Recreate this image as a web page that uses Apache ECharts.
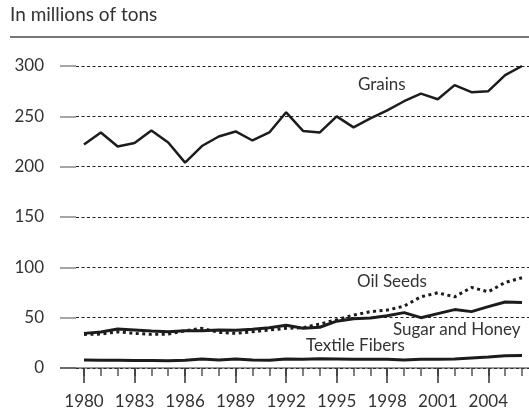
<!DOCTYPE html>
<html><head><meta charset="utf-8">
<script src="https://cdn.jsdelivr.net/npm/echarts@6/dist/echarts.min.js"></script>
<style>html,body{margin:0;padding:0;background:#fff}#c{width:529px;height:412px}</style>
</head><body><div id="c"></div>
<script>
const years = ['1980','1981','1982','1983','1984','1985','1986','1987','1988','1989','1990','1991','1992','1993','1994','1995','1996','1997','1998','1999','2000','2001','2002','2003','2004','2005','2006'];
const grains = [222,234,220,223.5,236,224,204,220.5,230,235,226,234,254,235.5,234,250,239,248,256,265,272.5,267,281,274,275,291,300];
const oilSeeds = [33.4,33.7,36,34.4,33.4,33.7,37,39.4,35.4,34.4,36,37.7,39.4,40,43.7,48,52.5,56,57.5,61.5,70.7,74.7,70.7,80,75.7,85,89.6];
const sugarHoney = [34.4,35.7,38.7,37.7,36.7,36,37,37,37.7,37.5,38.5,40,42.5,39.5,40.5,46.5,49,49.6,52,55,50,54,58,56,61,65.5,65];
const textileFibers = [8,7.6,7.6,7.5,7.4,7.3,7.6,9,8,9,8,7.6,9,8.6,9.3,9,8.6,8.6,8.6,8,8.6,8.6,9,10,11,12.2,12.5];
const yTicks = {min:0, max:300, interval:50};
const seriesNames = ['Grains','Oil Seeds','Sugar and Honey','Textile Fibers'];
const unitTitle = 'In millions of tons';

const FONT = 'Lato';
const TXT = '#333';
const chart = echarts.init(document.getElementById('c'), null, {renderer:'canvas'});
const lineStyle = {color:'#1c1c1c', width:2.5};
chart.setOption({
  animation:false,
  textStyle:{fontFamily:FONT},
  grid:[
    {left:76, right:0, top:66, bottom:44},
    {left:84, right:7, top:66, bottom:44}
  ],
  xAxis:[
    {gridIndex:0, type:'category', show:false, data:years},
    {gridIndex:1, type:'category', data:years, boundaryGap:false,
     axisLine:{show:false}, axisTick:{show:true, interval:0, length:8, lineStyle:{color:'#555', width:1.5}},
     axisLabel:{show:false}},
    {gridIndex:1, type:'category', data:years, boundaryGap:false, position:'bottom',
     axisLine:{show:false}, axisTick:{show:true, interval:2, length:15, lineStyle:{color:'#333', width:1.5}},
     axisLabel:{show:true, interval:2, margin:25, fontSize:17, color:TXT, fontFamily:FONT}}
  ],
  yAxis:[
    {gridIndex:0, type:'value', min:yTicks.min, max:yTicks.max, interval:yTicks.interval,
     axisLine:{show:false},
     axisTick:{show:true, length:16, lineStyle:{color:'#888', width:1.5}},
     axisLabel:{margin:32, fontSize:17, color:TXT, fontFamily:FONT},
     splitLine:{show:true, lineStyle:{color:'#222', width:1, type:[3,2.5]}}},
    {gridIndex:1, type:'value', min:yTicks.min, max:yTicks.max, interval:yTicks.interval, show:false, splitLine:{show:false}}
  ],
  series:[
    {name:seriesNames[0], type:'line', xAxisIndex:1, yAxisIndex:1, data:grains, symbol:'none', lineStyle:lineStyle, z:5},
    {name:seriesNames[1], type:'line', xAxisIndex:1, yAxisIndex:1, data:oilSeeds, symbol:'none', lineStyle:{color:'#1c1c1c', width:3, type:[3,3.5]}, z:4},
    {name:seriesNames[2], type:'line', xAxisIndex:1, yAxisIndex:1, data:sugarHoney, symbol:'none', lineStyle:{color:'#1c1c1c', width:3}, z:5},
    {name:seriesNames[3], type:'line', xAxisIndex:1, yAxisIndex:1, data:textileFibers, symbol:'none', lineStyle:{color:'#1c1c1c', width:3}, z:5}
  ],
  graphic:[
    {type:'text', left:10, top:5, style:{text:unitTitle, fill:TXT, font:'19px '+FONT}},
    {type:'line', shape:{x1:10, y1:37, x2:529, y2:37}, style:{stroke:'#777', lineWidth:2}},
    {type:'line', shape:{x1:60, y1:368, x2:529, y2:368}, style:{stroke:'#333', lineWidth:1.2}, z:3},
    {type:'text', x:358, y:85, style:{text:seriesNames[0], fill:TXT, font:'17px '+FONT, verticalAlign:'middle'}},
    {type:'text', x:357, y:282, style:{text:seriesNames[1], fill:TXT, font:'17px '+FONT, verticalAlign:'middle'}},
    {type:'text', x:393, y:330, style:{text:seriesNames[2], fill:TXT, font:'17px '+FONT, verticalAlign:'middle'}},
    {type:'text', x:306, y:346, style:{text:seriesNames[3], fill:TXT, font:'17px '+FONT, verticalAlign:'middle'}}
  ]
});
</script></body></html>
